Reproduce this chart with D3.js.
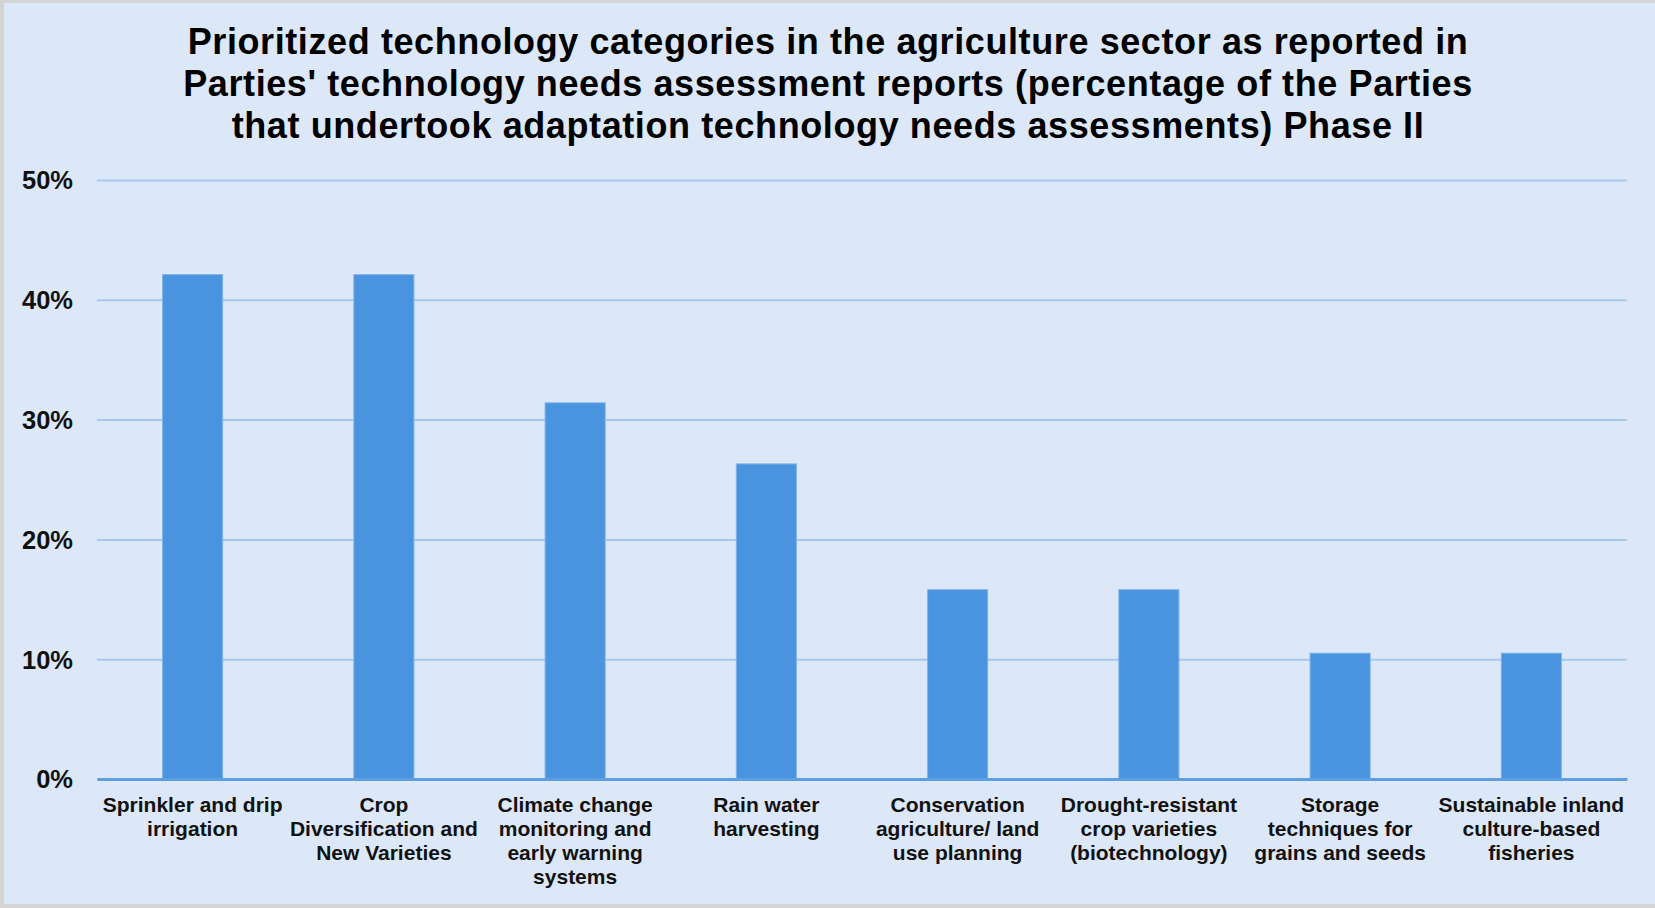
<!DOCTYPE html>
<html>
<head>
<meta charset="utf-8">
<script src="https://cdn.jsdelivr.net/npm/d3@7"></script>
<style>
  html, body { margin: 0; padding: 0; background: #d4d4d4; }
  svg { display: block; }
</style>
</head>
<body>
<svg id="chart" width="1655" height="908"></svg>
<script>
// Technology categories and share of Parties (percent)
const categories = [
  ["Sprinkler and drip", "irrigation"],
  ["Crop", "Diversification and", "New Varieties"],
  ["Climate change", "monitoring and", "early warning", "systems"],
  ["Rain water", "harvesting"],
  ["Conservation", "agriculture/ land", "use planning"],
  ["Drought-resistant", "crop varieties", "(biotechnology)"],
  ["Storage", "techniques for", "grains and seeds"],
  ["Sustainable inland", "culture-based", "fisheries"]
];
const values = [42.1, 42.1, 31.4, 26.3, 15.8, 15.8, 10.5, 10.5];
const yTicks = [0, 10, 20, 30, 40, 50];
const titleLines = [
  "Prioritized technology categories in the agriculture sector as reported in",
  "Parties' technology needs assessment reports (percentage of the Parties",
  "that undertook adaptation technology needs assessments) Phase II"
];

const W = 1655, H = 908;
const margin = { left: 97, right: 28, top: 180, bottom: 129 };
const svg = d3.select("#chart");
const font = "'Liberation Sans', Arial, sans-serif";

// panel background with thin grey frame on left/top/bottom
svg.append("rect")
  .attr("x", 4).attr("y", 3).attr("width", W - 4).attr("height", H - 7)
  .attr("fill", "#dce8f7");

const ids = d3.range(categories.length);
const x = d3.scaleBand()
  .domain(ids)
  .range([margin.left, W - margin.right])
  .paddingInner(0.686)
  .paddingOuter(0.343);

const y = d3.scaleLinear()
  .domain([0, 50])
  .range([H - margin.bottom, margin.top]);

// title
svg.append("g")
  .selectAll("text")
  .data(titleLines)
  .join("text")
  .attr("x", 828)
  .attr("y", (d, i) => 53.5 + i * 42)
  .attr("text-anchor", "middle")
  .attr("font-family", font)
  .attr("font-weight", "bold")
  .attr("font-size", 36)
  .attr("letter-spacing", 0.6)
  .attr("fill", "#000")
  .text(d => d);

// horizontal gridlines
const yAxis = d3.axisLeft(y)
  .tickValues(yTicks)
  .tickSize(-(W - margin.right - margin.left))
  .tickPadding(24)
  .tickFormat(d => d + "%");

const gy = svg.append("g")
  .attr("transform", `translate(${margin.left},0)`)
  .call(yAxis);
gy.select(".domain").remove();
gy.selectAll(".tick line")
  .attr("stroke", "#a6c8ee")
  .attr("stroke-width", 2);
gy.selectAll(".tick text")
  .attr("font-family", font)
  .attr("font-weight", "bold")
  .attr("font-size", 25.5)
  .attr("fill", "#111")
  .attr("dy", "0.35em");

// bars
svg.append("g")
  .selectAll("rect")
  .data(values)
  .join("rect")
  .attr("x", (d, i) => x(i))
  .attr("y", d => y(d))
  .attr("width", x.bandwidth())
  .attr("height", d => y(0) - y(d))
  .attr("fill", "#4a93de")
  .attr("stroke", "#7db2ea")
  .attr("stroke-width", 1);

// baseline
const xAxis = d3.axisBottom(x).tickSize(0).tickFormat("");
const gx = svg.append("g")
  .attr("transform", `translate(0,${y(0)})`)
  .call(xAxis);
gx.select(".domain")
  .attr("stroke", "#5e9ee3")
  .attr("stroke-width", 3);

// category labels, wrapped onto several lines
const labels = svg.append("g")
  .selectAll("text")
  .data(categories)
  .join("text")
  .attr("text-anchor", "middle")
  .attr("font-family", font)
  .attr("font-weight", "bold")
  .attr("font-size", 21)
  .attr("fill", "#111");
labels.each(function(lines, i) {
  const cx = x(i) + x.bandwidth() / 2;
  d3.select(this).selectAll("tspan")
    .data(lines)
    .join("tspan")
    .attr("x", cx)
    .attr("y", (d, k) => y(0) + 33 + k * 24)
    .text(d => d);
});
</script>
</body>
</html>
